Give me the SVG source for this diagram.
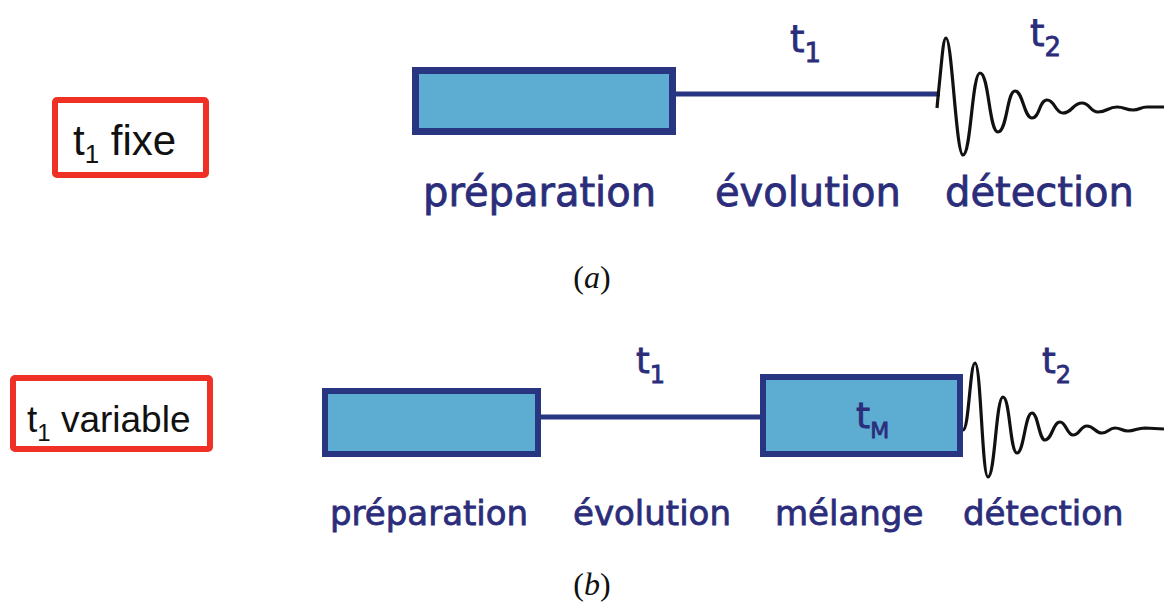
<svg xmlns="http://www.w3.org/2000/svg" width="1164" height="602" viewBox="0 0 1164 602">
<style>
.red{fill:#fff;stroke:#EE3124;stroke-width:6}
.blk{font-family:"Liberation Sans",Arial,sans-serif;fill:#111}
.box{fill:#5DACD2;stroke:#283580}
.conn{stroke:#283580;fill:none}
.lbl{font-family:"DejaVu Sans",sans-serif;fill:#2B2D7B;stroke:#2B2D7B;stroke-width:0.8}
.wave{fill:none;stroke:#111;stroke-width:3.2;stroke-linejoin:round}
.cap{font-family:"Liberation Serif","Times New Roman",serif;fill:#111;font-size:32px}
</style>
<rect width="1164" height="602" fill="#fff"/>

<!-- Panel (a) -->
<g id="a-mode">
<rect class="red" x="55" y="100" width="151" height="75" rx="2"/>
<text class="blk" x="73" y="155" font-size="42">t<tspan font-size="26" dy="8">1</tspan><tspan dy="-8"> fixe</tspan></text>
</g>
<g id="a-connectors">
<line class="conn" x1="675" y1="94" x2="940" y2="94" stroke-width="5"/>
</g>
<g id="a-preparation">
<rect class="box" x="415.5" y="70.5" width="257" height="61" stroke-width="7"/>
<text class="lbl" x="423" y="206" font-size="40">préparation</text>
</g>
<g id="a-evolution">
<text class="lbl" x="790" y="52" font-size="37">t<tspan font-size="26" dy="10">1</tspan></text>
<text class="lbl" x="715" y="206" font-size="40">évolution</text>
</g>
<g id="a-detection">
<path class="wave" d="M937,108 L938,97 C942,60 943,38 946,38 C952,38 956,155 963,155 C971,155 972,73 980,73 C989,73 989,132 998,132 C1007,132 1007,91 1015,91 C1023,91 1024,118 1032,118 C1040,118 1039,100 1047,100 C1055,100 1055,113 1063,113 C1072,113 1073,103 1082,103 C1090,103 1090,112 1098,112 C1107,112 1108,107 1117,107 C1125,107 1125,110 1133,110 C1140,110 1140,107 1147,107 L1164,107"/>
<text class="lbl" x="1030" y="46" font-size="37">t<tspan font-size="26" dy="10">2</tspan></text>
<text class="lbl" x="945" y="206" font-size="40">détection</text>
</g>
<text class="cap" x="592" y="288" text-anchor="middle">(<tspan font-style="italic">a</tspan>)</text>

<!-- Panel (b) -->
<g id="b-mode">
<rect class="red" x="13" y="378" width="197" height="71" rx="2"/>
<text class="blk" x="27" y="432" font-size="37">t<tspan font-size="24" dy="9">1</tspan><tspan dy="-9"> variable</tspan></text>
</g>
<g id="b-connectors">
<line class="conn" x1="540" y1="417" x2="762" y2="417" stroke-width="5"/>
</g>
<g id="b-preparation">
<rect class="box" x="325" y="391" width="213" height="63" stroke-width="6"/>
<text class="lbl" x="330" y="525" font-size="34">préparation</text>
</g>
<g id="b-evolution">
<text class="lbl" x="636" y="373" font-size="35">t<tspan font-size="24" dy="10">1</tspan></text>
<text class="lbl" x="573" y="525" font-size="34">évolution</text>
</g>
<g id="b-melange">
<rect class="box" x="763" y="377" width="197" height="77" stroke-width="6"/>
<text class="lbl" x="856" y="428" font-size="36">t<tspan font-size="22" dy="10">M</tspan></text>
<text class="lbl" x="775" y="525" font-size="34">mélange</text>
</g>
<g id="b-detection">
<path class="wave" d="M963,430 C969,430 970,363 975,363 C981,363 982,477 988,477 C995,477 996,397 1003,397 C1010,397 1010,453 1017,453 C1024,453 1025,413 1032,413 C1038,413 1039,440 1045,440 C1052,440 1053,422 1060,422 C1066,422 1067,435 1073,435 C1080,435 1080,426 1087,426 C1094,426 1095,433 1102,433 C1108,433 1109,428 1115,428 C1121,428 1122,431 1128,431 C1135,431 1137,428 1145,428 L1164,429"/>
<text class="lbl" x="1042" y="373" font-size="35">t<tspan font-size="24" dy="10">2</tspan></text>
<text class="lbl" x="963" y="525" font-size="34">détection</text>
</g>
<text class="cap" x="592" y="595" text-anchor="middle">(<tspan font-style="italic">b</tspan>)</text>
</svg>
